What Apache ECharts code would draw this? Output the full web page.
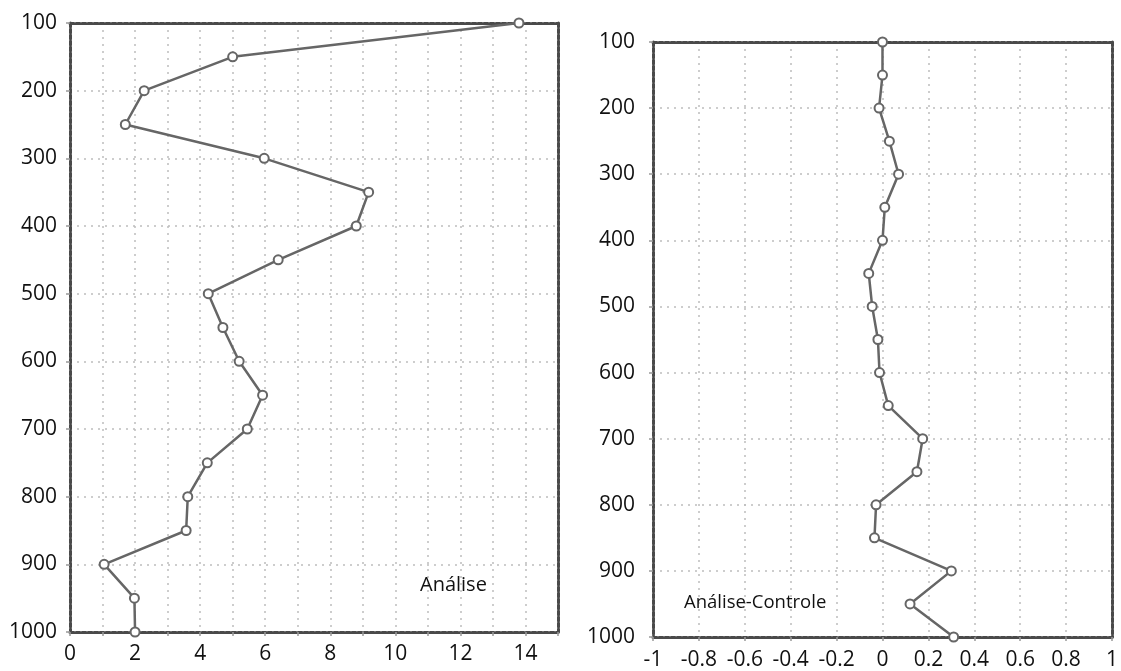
<!DOCTYPE html>
<html>
<head>
<meta charset="utf-8">
<title>Perfis</title>
<script src="https://cdn.jsdelivr.net/npm/echarts@6/dist/echarts.min.js"></script>
<style>
  html, body { margin: 0; padding: 0; background: #fff; }
  #chart { width: 1121px; height: 671px; }
</style>
</head>
<body>
<div id="chart"></div>
<script>
// Profundidades (eixo vertical, invertido)
const depths = [100, 150, 200, 250, 300, 350, 400, 450, 500, 550, 600, 650, 700, 750, 800, 850, 900, 950, 1000];
// Perfil "Análise"
const analise = [13.8, 5.0, 2.28, 1.7, 5.97, 9.18, 8.8, 6.4, 4.25, 4.7, 5.2, 5.92, 5.45, 4.22, 3.62, 3.57, 1.05, 1.98, 2.0];
// Perfil "Análise-Controle"
const controle = [0.0, 0.0, -0.015, 0.03, 0.07, 0.01, 0.0, -0.06, -0.045, -0.02, -0.013, 0.025, 0.175, 0.15, -0.028, -0.035, 0.3, 0.12, 0.31];

const labelLeft = 'Análise';
const labelRight = 'Análise-Controle';

const FONT = '"Open Sans", "DejaVu Sans", sans-serif';
const frame = { show: true, lineStyle: { color: '#4a4a4a', width: 3, type: [4, 2] } };
const grid = { show: true, lineStyle: { color: '#bdbdbd', width: 1.5, type: [2, 5] } };
const tick = { show: true, length: 4, inside: false, lineStyle: { color: '#999', width: 1.5 } };
const label = { color: '#111', fontSize: 21, fontFamily: FONT };

function bottomAxis(gi, min, max, step, fmt, margin) {
  return {
    type: 'value', gridIndex: gi, position: 'bottom', min, max, interval: step,
    axisLine: Object.assign({ onZero: false }, frame),
    axisTick: tick,
    splitLine: grid,
    axisLabel: Object.assign({ margin, formatter: fmt, showMaxLabel: true }, label)
  };
}
function topAxis(gi, min, max) {
  return {
    type: 'value', gridIndex: gi, position: 'top', min, max,
    axisLine: Object.assign({ onZero: false }, frame),
    axisTick: { show: false }, axisLabel: { show: false }, splitLine: { show: false }
  };
}
function leftAxis(gi, margin) {
  return {
    type: 'value', gridIndex: gi, position: 'left', inverse: true, min: 100, max: 1000, interval: 100,
    axisLine: Object.assign({ onZero: false }, frame),
    axisTick: tick,
    splitLine: grid,
    axisLabel: Object.assign({ margin, formatter: v => String(v) }, label)
  };
}
function rightAxis(gi) {
  return {
    type: 'value', gridIndex: gi, position: 'right', inverse: true, min: 100, max: 1000,
    axisLine: Object.assign({ onZero: false }, frame),
    axisTick: { show: false }, axisLabel: { show: false }, splitLine: { show: false }
  };
}

function profile(xi, yi, values) {
  return {
    type: 'line', xAxisIndex: xi, yAxisIndex: yi,
    data: depths.map((d, i) => [values[i], d]),
    symbol: 'emptyCircle', symbolSize: 9,
    lineStyle: { color: '#666', width: 2.5 },
    itemStyle: { color: '#666', borderColor: '#666', borderWidth: 1.8 },
    animation: false, z: 5
  };
}

const chart = echarts.init(document.getElementById('chart'), null, { renderer: 'canvas' });
chart.setOption({
  backgroundColor: '#fff',
  animation: false,
  title: [
    { text: labelLeft, left: 415, top: 570, textStyle: { fontSize: 20, fontWeight: 'normal', color: '#111', fontFamily: FONT } },
    { text: labelRight, left: 679, top: 588, textStyle: { fontSize: 18.5, fontWeight: 'normal', color: '#111', fontFamily: FONT } }
  ],
  grid: [
    { left: 70, top: 23, width: 488, height: 609 },
    { left: 653, top: 42, width: 462, height: 596 }
  ],
  xAxis: [
    bottomAxis(0, 0, 15, 1, v => (v % 2 === 0 && v < 15) ? String(v) : '', 12),
    topAxis(0, 0, 15),
    bottomAxis(1, -1, 1, 0.2, v => String(Math.round(v * 10) / 10), 13),
    topAxis(1, -1, 1)
  ],
  yAxis: [
    leftAxis(0, 13),
    rightAxis(0),
    leftAxis(1, 18),
    rightAxis(1)
  ],
  series: [
    profile(0, 0, analise),
    profile(2, 2, controle)
  ]
});
</script>
</body>
</html>
